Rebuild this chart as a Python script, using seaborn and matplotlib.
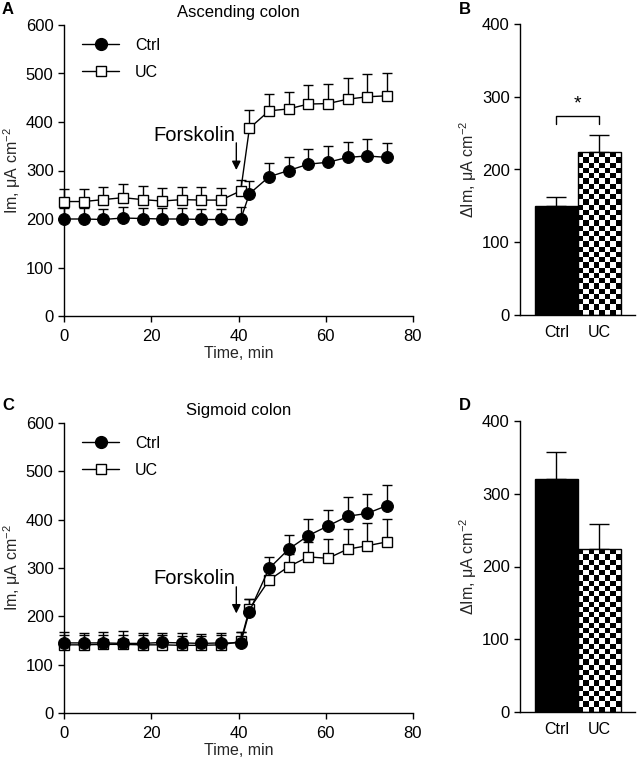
import numpy as np
import pandas as pd
import matplotlib
matplotlib.use("Agg")
import matplotlib.pyplot as plt
import seaborn as sns
from matplotlib.lines import Line2D

# ---------------- data ----------------
time = [0, 4.5, 9, 13.5, 18, 22.5, 27, 31.5, 36, 40.5, 42.5, 47, 51.5, 56, 60.5, 65, 69.5, 74]
asc_ctrl = [200, 200, 199, 202, 201, 200, 200, 199, 199, 199, 252, 287, 300, 313, 317, 327, 330, 327]
asc_ctrl_err = [22, 22, 22, 22, 22, 22, 22, 22, 22, 25, 26, 28, 28, 31, 33, 32, 35, 30]
asc_uc = [236, 236, 240, 244, 240, 237, 240, 239, 239, 258, 387, 423, 427, 437, 438, 447, 452, 454]
asc_uc_err = [25, 25, 26, 28, 28, 26, 26, 27, 25, 22, 38, 35, 35, 39, 41, 43, 47, 46]
sig_ctrl = [145, 145, 145, 144, 144, 146, 145, 144, 145, 145, 210, 299, 339, 367, 387, 407, 413, 429]
sig_ctrl_err = [23, 20, 22, 25, 22, 20, 20, 20, 20, 22, 25, 24, 29, 34, 34, 39, 41, 42]
sig_uc = [141, 141, 142, 142, 141, 141, 140, 140, 141, 148, 215, 275, 303, 323, 320, 339, 346, 354]
sig_uc_err = [20, 20, 20, 20, 20, 20, 20, 20, 20, 20, 20, 20, 25, 30, 41, 41, 48, 47]

groups = ["Ctrl", "UC"]
asc_delta = [150, 224]
asc_delta_err = [12, 24]
sig_delta = [320, 224]
sig_delta_err = [37, 34]

# ---------------- style ----------------
sns.set_theme(style="ticks")
plt.rcParams["font.family"] = ["Liberation Sans", "DejaVu Sans"]
plt.rcParams["mathtext.fontset"] = "custom"
plt.rcParams["mathtext.rm"] = "Liberation Sans"
plt.rcParams["mathtext.it"] = "Liberation Sans:italic"
plt.rcParams["mathtext.default"] = "regular"
FS = 12
LFS = 11.5
plt.rcParams.update({
    "axes.linewidth": 1.0,
    "xtick.major.width": 1.0, "ytick.major.width": 1.0,
    "xtick.major.size": 4.5, "ytick.major.size": 4.5,
    "xtick.major.pad": 4.5, "ytick.major.pad": 3,
    "xtick.labelsize": FS, "ytick.labelsize": FS,
    "xtick.color": "black", "ytick.color": "black",
    "axes.edgecolor": "black", "text.color": "black",
})

W, H = 638, 764
fig = plt.figure(figsize=(W / 100, H / 100), dpi=100)


def ax_px(left, top, right, bottom):
    return fig.add_axes([left / W, 1 - bottom / H, (right - left) / W, (bottom - top) / H])


def time_panel(ax, ctrl, ctrl_err, uc, uc_err, title, arrow_top, arrow_bot, txt_y):
    df = pd.DataFrame({"time": time + time,
                       "val": ctrl + uc,
                       "grp": ["Ctrl"] * len(time) + ["UC"] * len(time)})
    # error bars (upper only)
    ax.errorbar(time, ctrl, yerr=[np.zeros(len(ctrl)), ctrl_err], fmt="none",
                ecolor="black", elinewidth=1.0, capsize=3.6, capthick=1.0, zorder=2, clip_on=False)
    ax.errorbar(time, uc, yerr=[np.zeros(len(uc)), uc_err], fmt="none",
                ecolor="black", elinewidth=1.0, capsize=3.6, capthick=1.0, zorder=2, clip_on=False)
    sns.lineplot(data=df[df.grp == "Ctrl"], x="time", y="val", ax=ax, color="black",
                 marker="o", markersize=8.5, markerfacecolor="black", markeredgecolor="black",
                 linewidth=1.0, zorder=4, legend=False, clip_on=False)
    sns.lineplot(data=df[df.grp == "UC"], x="time", y="val", ax=ax, color="black",
                 marker="s", markersize=7, markerfacecolor="white", markeredgecolor="black",
                 markeredgewidth=1.0, linewidth=1.0, zorder=3, legend=False, clip_on=False)
    ax.set_xlim(0, 80)
    ax.set_ylim(0, 600)
    ax.set_xticks([0, 20, 40, 60, 80])
    ax.set_yticks([0, 100, 200, 300, 400, 500, 600])
    sns.despine(ax=ax)
    ax.set_xlabel("Time, min", fontsize=LFS, labelpad=2)
    ax.set_ylabel("Im, \u03bcA cm$^{\u22122}$", fontsize=LFS, labelpad=2)
    ax.set_title(title, fontsize=FS, pad=6)
    handles = [Line2D([], [], color="black", marker="o", markersize=8.5, lw=1.0),
               Line2D([], [], color="black", marker="s", markersize=7, lw=1.0,
                      markerfacecolor="white")]
    ax.legend(handles, groups, loc="upper left", bbox_to_anchor=(0.02, 0.995), frameon=False,
              fontsize=LFS, handlelength=2.3, handletextpad=1.0, labelspacing=0.75, borderpad=0.2)
    ax.annotate("", xy=(39.5, arrow_bot), xytext=(39.5, arrow_top),
                arrowprops=dict(arrowstyle="-|>", color="black", lw=1.0,
                                mutation_scale=13, shrinkA=0, shrinkB=0))
    ax.text(39.3, txt_y, "Forskolin", ha="right", va="center", fontsize=14.5)


def bar_panel(ax, vals, errs):
    df = pd.DataFrame({"grp": groups, "val": vals})
    sns.barplot(data=df, x="grp", y="val", ax=ax, hue="grp", palette=["black", "white"],
                width=1.0, edgecolor="black", linewidth=1.0, legend=False, errorbar=None)
    ax.errorbar([0, 1], vals, yerr=[np.zeros(2), errs], fmt="none", ecolor="black",
                elinewidth=1.0, capsize=7.5, capthick=1.0, zorder=1)
    # checker pattern for UC bar
    patch = ax.patches[1]
    bb = patch.get_bbox()
    ncols = 8
    nrows = int(round((bb.y1 - bb.y0) / 400 * 290 / 5.3))
    chk = (np.add.outer(np.arange(nrows), np.arange(ncols)) % 2).astype(float)
    im = ax.imshow(chk, cmap="gray", extent=(bb.x0, bb.x1, bb.y0, bb.y1), aspect="auto",
                   interpolation="nearest", zorder=2.5, origin="upper")
    im.set_clip_path(patch)
    patch.set_zorder(3)
    patch.set_facecolor("none")
    ax.set_xlim(-0.845, 1.83)
    ax.set_ylim(0, 400)
    ax.set_yticks([0, 100, 200, 300, 400])
    ax.tick_params(axis="x", length=0, pad=7, labelsize=LFS)
    sns.despine(ax=ax)
    ax.set_xlabel("")
    ax.set_ylabel("\u0394Im, \u03bcA cm$^{\u22122}$", fontsize=LFS, labelpad=2)


axA = ax_px(64, 25, 413, 316)
time_panel(axA, asc_ctrl, asc_ctrl_err, asc_uc, asc_uc_err, "Ascending colon", 357, 301, 372)

axB = ax_px(520, 24, 635, 315)
bar_panel(axB, asc_delta, asc_delta_err)
axB.plot([0, 0, 1, 1], [262, 274, 274, 262], color="black", lw=1.0)
axB.text(0.5, 279, "*", ha="center", va="bottom", fontsize=14)

axC = ax_px(64, 423, 413, 713)
time_panel(axC, sig_ctrl, sig_ctrl_err, sig_uc, sig_uc_err, "Sigmoid colon", 261, 206, 279)

axD = ax_px(520, 421, 635, 712)
bar_panel(axD, sig_delta, sig_delta_err)

for lab, (px, py) in {"A": (8, 9), "B": (465, 9), "C": (8, 405), "D": (465, 405)}.items():
    fig.text(px / W, 1 - py / H, lab, fontsize=12, fontweight="bold", ha="center", va="center")

fig.savefig("out.png", dpi=100)
